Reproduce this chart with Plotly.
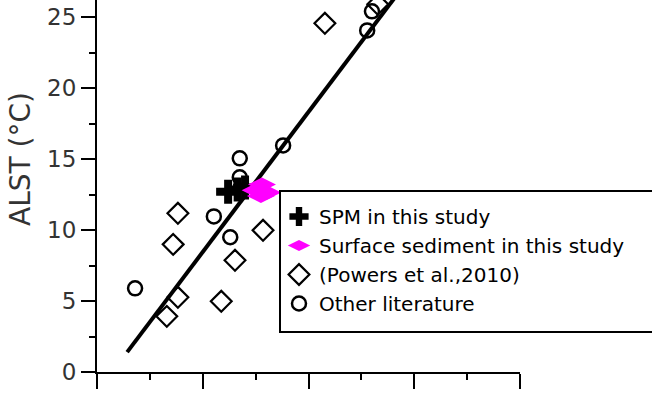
import plotly.graph_objects as go

# ---- data (x in index units, y = ALST in °C) ----
spm_x = [0.248, 0.266, 0.280]
spm_y = [12.70, 12.85, 13.00]

sed_x = [0.300, 0.312, 0.322, 0.310]
sed_y = [12.80, 13.20, 12.65, 12.40]

powers_x = [0.431, 0.531, 0.153, 0.144, 0.314, 0.261, 0.153, 0.132, 0.235]
powers_y = [24.56, 25.90, 11.18, 8.99, 9.98, 7.87, 5.26, 3.92, 4.98]

other_x = [0.072, 0.221, 0.252, 0.270, 0.270, 0.352, 0.511, 0.520]
other_y = [5.89, 10.96, 9.49, 15.05, 13.71, 15.96, 24.06, 25.40]

fit_x = [0.057, 0.576]
fit_y = [1.40, 27.00]

y_tickvals = [0, 5, 10, 15, 20, 25]
y_ticktext = ["0", "5", "10", "15", "20", "25"]

FONT = "DejaVu Sans"

fig = go.Figure()

fig.add_trace(go.Scatter(x=fit_x, y=fit_y, mode="lines",
                         line=dict(color="black", width=4),
                         showlegend=False, hoverinfo="skip"))

fig.add_trace(go.Scatter(x=spm_x, y=spm_y, mode="markers", name="SPM in this study",
                         marker=dict(symbol="cross", size=20, color="black",
                                     line=dict(width=0))))
fig.add_trace(go.Scatter(x=sed_x, y=sed_y, mode="markers", name="Surface sediment in this study",
                         marker=dict(symbol="diamond-wide", size=20, color="#ff00ff",
                                     line=dict(width=0))))
fig.add_trace(go.Scatter(x=powers_x, y=powers_y, mode="markers", name="(Powers et al.,2010)",
                         marker=dict(symbol="diamond-open", size=16, color="black",
                                     line=dict(width=2.2, color="black"))))
fig.add_trace(go.Scatter(x=other_x, y=other_y, mode="markers", name="Other literature",
                         marker=dict(symbol="circle-open", size=14, color="black",
                                     line=dict(width=2.5, color="black"))))

L, R, T, B = 97, 132, 0, 23
W, H = 652, 395
pw = W - L - R
ph = H - T - B

def px2paper_x(px):
    return (px - L) / pw

def py2paper_y(py):
    return (H - B - py) / ph

fig.update_layout(
    width=W, height=H,
    margin=dict(l=L, r=R, t=T, b=B, pad=0),
    paper_bgcolor="white", plot_bgcolor="white",
    font=dict(family=FONT, color="black"),
    showlegend=True,
    legend=dict(x=px2paper_x(279), y=py2paper_y(197), xanchor="left", yanchor="top",
                bgcolor="rgba(0,0,0,0)", borderwidth=0,
                font=dict(family=FONT, size=20, color="black"),
                itemsizing="trace", tracegroupgap=0),
    xaxis=dict(range=[0, 0.8], tickmode="linear", tick0=0, dtick=0.2,
               showticklabels=False, ticks="outside", ticklen=15, tickwidth=2,
               tickcolor="black", showline=True, linecolor="black", linewidth=2,
               showgrid=False, zeroline=False, mirror=False,
               minor=dict(dtick=0.1, ticks="outside", ticklen=6, tickwidth=2,
                          tickcolor="black", showgrid=False)),
    yaxis=dict(range=[0, 26.2], tickmode="array", tickvals=y_tickvals, ticktext=y_ticktext,
               ticks="outside", ticklen=14, tickwidth=2, tickcolor="black",
               tickfont=dict(family=FONT, size=23, color="#333333"),
               showline=True, linecolor="black", linewidth=2,
               showgrid=False, zeroline=False, mirror=False,
               minor=dict(dtick=2.5, tick0=0, ticks="outside", ticklen=6, tickwidth=2,
                          tickcolor="black", showgrid=False)),
    shapes=[dict(type="rect", xref="paper", yref="paper",
                 x0=px2paper_x(280), x1=px2paper_x(664),
                 y0=py2paper_y(332), y1=py2paper_y(191),
                 line=dict(color="black", width=2), fillcolor="white", layer="above")],
    annotations=[dict(text="ALST (°C)", xref="paper", yref="paper",
                      x=px2paper_x(21), y=py2paper_y(159), textangle=-90,
                      xanchor="center", yanchor="middle", showarrow=False,
                      font=dict(family=FONT, size=28, color="#333333"))],
)

fig.write_html("out.html")
